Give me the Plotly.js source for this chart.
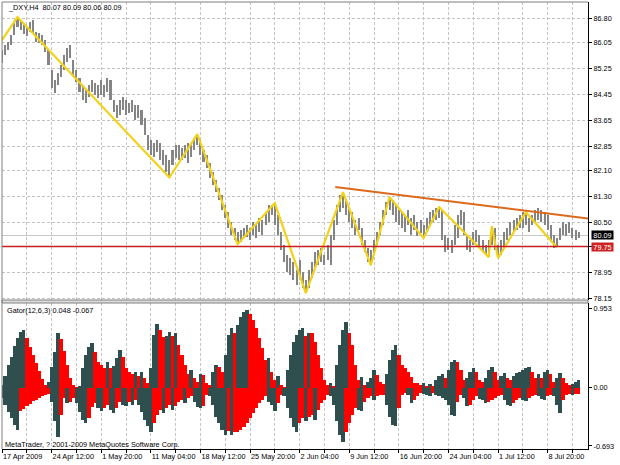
<!DOCTYPE html>
<html><head><meta charset="utf-8">
<script src="https://cdn.plot.ly/plotly-3.0.1.min.js"></script>
<style>html,body{margin:0;padding:0;background:#fff;}#chart{width:620px;height:465px;}</style>
</head><body><div id="chart"></div>
<script>
// ---- data (one point = 2 H4 bars) ----
const barsPerPoint = 2;
const priceHigh = [
85.82,85.97,86.07,86.28,86.68,86.84,86.75,86.62,86.50,86.68,
86.75,86.38,86.35,86.28,86.13,85.82,85.20,84.89,85.11,85.36,
85.67,85.88,85.97,85.51,85.20,84.95,84.74,84.58,84.74,84.89,
84.80,84.74,84.89,84.74,84.95,84.89,84.27,84.12,84.27,84.37,
84.27,84.18,84.27,84.12,84.12,83.97,83.72,83.19,83.04,82.95,
83.04,82.95,82.73,82.58,82.42,82.73,82.89,82.89,82.79,82.89,
82.95,82.89,83.10,83.22,83.04,82.73,82.58,82.33,82.05,81.80,
81.56,81.34,81.03,80.81,80.51,80.32,80.20,80.26,80.32,80.41,
80.32,80.51,80.41,80.63,80.57,80.81,81.03,81.03,81.09,80.72,
80.20,79.79,79.48,79.39,79.27,79.02,79.33,78.96,78.71,79.02,
79.27,79.58,79.64,79.70,79.48,79.79,80.10,80.57,81.03,81.34,
81.43,81.18,80.94,80.81,80.57,80.63,80.32,79.95,79.70,79.64,
79.95,80.20,80.51,80.87,81.12,81.28,81.18,81.03,80.87,80.81,
80.72,80.87,80.63,80.72,80.51,80.57,80.41,80.63,80.81,80.87,
80.94,80.97,80.87,80.10,80.01,79.95,80.41,80.72,80.87,80.81,
80.10,79.95,80.20,80.26,80.10,79.95,79.79,79.95,80.38,80.32,
79.79,79.95,80.20,80.32,80.51,80.57,80.63,80.72,80.81,80.81,
80.63,80.72,80.87,80.94,80.87,80.81,80.72,80.41,80.10,80.01,
80.32,80.51,80.45,80.51,80.32,80.26,80.20];
const priceLow = [
85.42,85.67,85.82,85.97,86.28,86.53,86.44,86.31,86.25,86.38,
86.35,86.07,86.04,85.97,85.76,85.36,84.65,84.49,84.74,84.99,
85.20,85.45,85.57,85.05,84.83,84.52,84.27,84.18,84.37,84.52,
84.43,84.34,84.43,84.37,84.52,84.27,83.90,83.72,83.81,83.97,
83.81,83.87,83.90,83.66,83.72,83.50,83.19,82.73,82.58,82.51,
82.67,82.42,82.27,82.05,81.88,82.27,82.48,82.42,82.42,82.48,
82.33,82.51,82.73,82.89,82.58,82.36,82.17,81.87,81.65,81.43,
81.18,80.87,80.63,80.32,80.10,79.95,79.82,79.89,80.01,80.04,
79.95,80.10,80.01,80.20,80.10,80.41,80.51,80.72,80.41,80.10,
79.64,79.27,78.96,78.87,78.71,78.56,78.77,78.46,78.31,78.46,
78.77,79.08,79.17,79.27,79.17,79.33,79.17,79.95,80.41,80.81,
80.94,80.72,80.51,80.32,80.10,80.26,79.79,79.58,79.27,79.17,
79.48,79.79,80.10,80.41,80.72,80.87,80.72,80.51,80.41,80.32,
80.20,80.41,80.10,80.26,80.07,80.16,80.01,80.20,80.41,80.51,
80.57,80.63,79.95,79.58,79.64,79.55,79.79,80.01,80.41,80.10,
79.64,79.58,79.79,79.89,79.70,79.58,79.48,79.42,79.79,79.64,
79.39,79.48,79.70,79.95,80.10,80.20,80.26,80.32,80.32,80.41,
80.20,80.41,80.51,80.57,80.51,80.41,80.26,79.95,79.70,79.72,
79.95,80.10,80.07,80.16,80.01,79.95,80.01];
const gatorUpper = [
0.04,0.14,0.27,0.37,0.50,0.60,0.67,0.69,0.59,0.49,
0.39,0.30,0.20,0.11,0.03,0.07,0.25,0.43,0.66,0.58,
0.44,0.27,0.12,0.03,0.01,0.02,0.24,0.39,0.49,0.54,
0.43,0.31,0.27,0.24,0.31,0.24,0.26,0.36,0.45,0.37,
0.24,0.19,0.16,0.19,0.14,0.19,0.12,0.06,0.24,0.63,
0.76,0.69,0.61,0.62,0.67,0.62,0.66,0.51,0.39,0.27,
0.16,0.21,0.12,0.07,0.16,0.15,0.06,0.04,0.19,0.27,
0.25,0.19,0.39,0.63,0.72,0.66,0.75,0.85,0.91,0.93,
0.88,0.81,0.72,0.60,0.48,0.33,0.36,0.19,0.10,0.14,
0.04,0.01,0.21,0.39,0.55,0.63,0.69,0.72,0.62,0.66,
0.65,0.55,0.39,0.24,0.10,0.04,0.06,0.02,0.27,0.51,
0.69,0.79,0.66,0.51,0.27,0.10,0.13,0.04,0.07,0.12,
0.21,0.15,0.07,0.05,0.16,0.33,0.45,0.51,0.39,0.27,
0.24,0.19,0.13,0.06,0.06,0.04,0.06,0.02,0.05,0.02,
0.10,0.14,0.17,0.12,0.21,0.31,0.33,0.31,0.21,0.10,
0.12,0.19,0.24,0.19,0.10,0.07,0.12,0.21,0.25,0.19,
0.10,0.14,0.18,0.12,0.10,0.14,0.18,0.19,0.21,0.24,
0.25,0.19,0.12,0.16,0.12,0.19,0.21,0.16,0.07,0.12,
0.18,0.12,0.06,0.04,0.05,0.07,0.10];
const gatorLower = [
-0.12,-0.20,-0.29,-0.36,-0.44,-0.50,-0.27,-0.25,-0.22,-0.19,
-0.16,-0.14,-0.12,-0.10,-0.08,-0.07,-0.17,-0.40,-0.58,-0.32,
-0.12,-0.18,-0.17,-0.12,-0.18,-0.29,-0.38,-0.42,-0.36,-0.23,
-0.18,-0.24,-0.28,-0.24,-0.20,-0.26,-0.30,-0.24,-0.17,-0.20,
-0.22,-0.17,-0.20,-0.14,-0.20,-0.29,-0.38,-0.46,-0.53,-0.42,
-0.32,-0.26,-0.30,-0.24,-0.20,-0.26,-0.22,-0.17,-0.14,-0.18,
-0.12,-0.10,-0.17,-0.23,-0.24,-0.22,-0.08,-0.10,-0.20,-0.35,
-0.42,-0.50,-0.56,-0.52,-0.56,-0.53,-0.53,-0.50,-0.47,-0.42,
-0.36,-0.30,-0.24,-0.18,-0.14,-0.10,-0.17,-0.20,-0.28,-0.18,
-0.08,-0.10,-0.24,-0.36,-0.47,-0.53,-0.42,-0.36,-0.40,-0.35,
-0.32,-0.38,-0.26,-0.18,-0.14,-0.08,-0.10,-0.20,-0.40,-0.56,
-0.64,-0.53,-0.42,-0.32,-0.24,-0.26,-0.28,-0.17,-0.12,-0.10,
-0.14,-0.10,-0.08,-0.08,-0.20,-0.35,-0.44,-0.46,-0.24,-0.08,
-0.06,-0.08,-0.18,-0.14,-0.10,-0.06,-0.07,-0.08,-0.10,-0.06,
-0.08,-0.10,-0.12,-0.15,-0.20,-0.32,-0.34,-0.17,-0.08,-0.12,
-0.22,-0.20,-0.15,-0.10,-0.13,-0.15,-0.18,-0.17,-0.15,-0.12,
-0.10,-0.08,-0.14,-0.20,-0.22,-0.18,-0.15,-0.12,-0.14,-0.16,
-0.12,-0.10,-0.08,-0.10,-0.13,-0.14,-0.10,-0.08,-0.10,-0.20,
-0.30,-0.14,-0.08,-0.07,-0.08,-0.07,-0.07];
const zigzagBars   = [-1, 10, 108, 126, 152, 176, 196, 220, 238, 250, 272, 282, 314, 316, 320, 338, 358];
const zigzagPrices = [86.06, 86.84, 81.88, 83.22, 79.82, 81.09, 78.31, 81.43, 79.17, 81.28, 80.01, 80.97, 79.42, 80.38, 79.39, 80.81, 79.72];
const trendBars   = [215, 380];
const trendPrices = [81.59, 80.60];
const supportLevel = 79.75;
const bidPrice = 80.09;
const priceTicks = [86.80, 86.05, 85.25, 84.45, 83.65, 82.85, 82.10, 81.30, 80.50, 79.75, 78.95, 78.15];
const gatorTicks = [0.953, 0, -0.693];
const gatorTickText = ['0.953', '0.00', '-0.693'];
const dateTickBars = [0, 32, 64, 96, 128, 160, 192, 224, 256, 288, 320, 352];
const dateTickText = ['17 Apr 2009', '24 Apr 12:00', '1 May 20:00', '11 May 04:00', '18 May 12:00', '25 May 20:00',
                      '2 Jun 04:00', '9 Jun 12:00', '16 Jun 20:00', '24 Jun 04:00', '1 Jul 12:00', '8 Jul 20:00'];
const headerText = '_DXY,H4\u00a0\u00a080.07 80.09 80.06 80.09';
const gatorLabel = 'Gator(12,6,3) 0.048 -0.067';
const copyrightText = 'MetaTrader, ? 2001-2009 MetaQuotes Software Corp.';

// ---- build ----
const xs = priceHigh.map((_, i) => i * barsPerPoint);
const DARK = '#2f4f4f', RED = '#ff0000';
const upColors = gatorUpper.map((v, i) => (i === 0 || v > gatorUpper[i - 1]) ? DARK : RED);
const dnColors = gatorLower.map((v, i) => (i === 0 || Math.abs(v) > Math.abs(gatorLower[i - 1])) ? DARK : RED);

const gridBars = [], gridText = [];
for (let b = 0; b <= 368; b += 16) {
  gridBars.push(b);
  const k = dateTickBars.indexOf(b);
  gridText.push(k >= 0 ? dateTickText[k] : '');
}

const FONT = {family: 'Liberation Sans, Arial, sans-serif', size: 7.3, color: '#000'};
const GRID = '#c4c4c4';
const histWidth = barsPerPoint * 1.1;

const traces = [
  {type: 'bar', x: xs, base: priceLow, y: priceHigh.map((h, i) => h - priceLow[i]), width: 1.3,
   marker: {color: '#858585', line: {width: 0}}, xaxis: 'x2', yaxis: 'y', hoverinfo: 'skip'},
  {type: 'scatter', mode: 'lines', x: zigzagBars, y: zigzagPrices, line: {color: '#f3d21a', width: 2.2},
   xaxis: 'x2', yaxis: 'y', hoverinfo: 'skip'},
  {type: 'scatter', mode: 'lines', x: trendBars, y: trendPrices, line: {color: '#dc6a1c', width: 2},
   xaxis: 'x2', yaxis: 'y', hoverinfo: 'skip'},
  {type: 'bar', x: xs, y: gatorUpper, width: histWidth,
   marker: {color: upColors, line: {width: 0}}, xaxis: 'x', yaxis: 'y2', hoverinfo: 'skip'},
  {type: 'bar', x: xs, y: gatorLower, width: histWidth,
   marker: {color: dnColors, line: {width: 0}}, xaxis: 'x', yaxis: 'y2', hoverinfo: 'skip'}
];

const pyTop = 2, pyBot = 449, H = pyBot - pyTop;
const py = y => (pyBot - y) / H;

const layout = {
  width: 620, height: 465,
  margin: {l: 2, r: 32, t: 2, b: 16, pad: 0},
  paper_bgcolor: '#fff', plot_bgcolor: '#fff',
  showlegend: false, barmode: 'overlay', bargap: 0,
  font: FONT,
  xaxis: {domain: [0, 1], anchor: 'y2', range: [0, 378.06], tickmode: 'array', tickvals: gridBars, ticktext: gridText,
          ticks: 'outside', ticklen: 3, tickcolor: '#000', ticklabelposition: 'outside right', tickangle: 0,
          automargin: false,
          showgrid: true, gridcolor: GRID, griddash: '3px,2px', gridwidth: 1, zeroline: false,
          showline: true, linecolor: '#000', linewidth: 1, tickfont: FONT},
  xaxis2: {matches: 'x', anchor: 'y', showticklabels: false, ticks: '', tickmode: 'array', tickvals: gridBars,
           showgrid: true, gridcolor: GRID, griddash: '3px,2px', gridwidth: 1, zeroline: false, showline: false},
  yaxis: {domain: [py(300), 1], anchor: 'x2', side: 'right', range: [78.097, 87.304],
          tickmode: 'array', tickvals: priceTicks, ticktext: priceTicks.map(v => v.toFixed(2)),
          ticks: 'outside', ticklen: 3, tickcolor: '#000', showgrid: true, gridcolor: GRID, griddash: '3px,2px',
          zeroline: false, showline: true, linecolor: '#000', linewidth: 1, tickfont: FONT, automargin: false},
  yaxis2: {domain: [0, py(303)], anchor: 'x', side: 'right', range: [-0.729, 1.013],
           tickmode: 'array', tickvals: gatorTicks, ticktext: gatorTickText,
           ticks: 'outside', ticklen: 3, tickcolor: '#000', showgrid: false, zeroline: false,
           showline: true, linecolor: '#000', linewidth: 1, tickfont: FONT, automargin: false},
  shapes: [
    {type: 'line', xref: 'x2 domain', yref: 'y', x0: 0, x1: 1, y0: bidPrice, y1: bidPrice,
     line: {color: '#c8c8c8', width: 1}, layer: 'below'},
    {type: 'line', xref: 'x2 domain', yref: 'y', x0: 0, x1: 1, y0: supportLevel, y1: supportLevel,
     line: {color: '#c81e1e', width: 1.5}, layer: 'above'},
    {type: 'rect', xref: 'paper', yref: 'paper', x0: 0, x1: 1, y0: py(303), y1: py(300),
     fillcolor: '#dcdcdc', line: {color: '#808080', width: 1}, layer: 'above'},
    {type: 'line', xref: 'paper', yref: 'paper', x0: 0, x1: 0, y0: 0, y1: 1,
     line: {color: '#808080', width: 1}, layer: 'above'},
    {type: 'line', xref: 'paper', yref: 'paper', x0: 0, x1: 1, y0: 1, y1: 1,
     line: {color: '#808080', width: 1}, layer: 'above'}
  ],
  annotations: [
    {xref: 'paper', yref: 'paper', x: 0.007, y: py(8), xanchor: 'left', yanchor: 'middle',
     text: headerText, showarrow: false, font: FONT},
    {xref: 'paper', yref: 'paper', x: 0.005, y: py(310), xanchor: 'left', yanchor: 'middle',
     text: gatorLabel, showarrow: false, font: FONT},
    {xref: 'paper', yref: 'paper', x: 0.002, y: py(444), xanchor: 'left', yanchor: 'middle',
     text: copyrightText, showarrow: false, font: FONT},
    {xref: 'paper', yref: 'y', x: 1, xshift: 3, y: bidPrice, xanchor: 'left', yanchor: 'middle',
     text: bidPrice.toFixed(2), showarrow: false, bgcolor: '#000', borderpad: 0, width: 21, height: 8,
     font: {family: FONT.family, size: 7.3, color: '#fff'}},
    {xref: 'paper', yref: 'y', x: 1, xshift: 3, y: supportLevel, xanchor: 'left', yanchor: 'middle',
     text: supportLevel.toFixed(2), showarrow: false, bgcolor: '#cc2222', borderpad: 0, width: 21, height: 8,
     font: {family: FONT.family, size: 7.3, color: '#fff'}}
  ]
};

Plotly.newPlot('chart', traces, layout, {staticPlot: true, displayModeBar: false});
</script></body></html>
